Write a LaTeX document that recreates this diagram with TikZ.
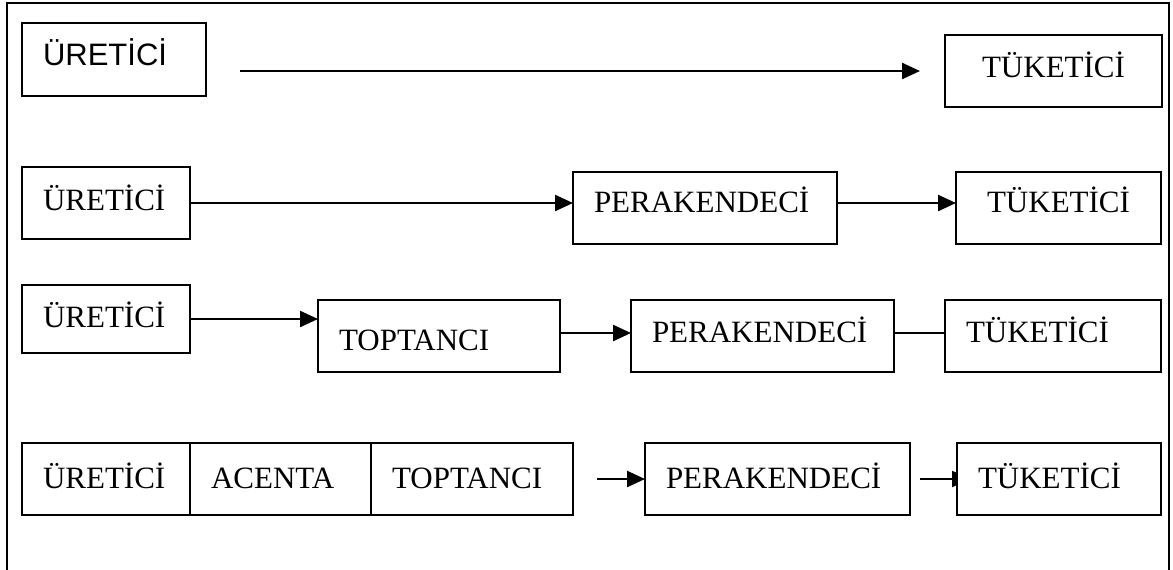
\documentclass[tikz,border=0pt]{standalone}
\usepackage{fontspec}
\setmainfont{Liberation Serif}
\setsansfont{Liberation Sans}
\usetikzlibrary{arrows.meta,positioning,backgrounds}

\begin{document}
\begin{tikzpicture}[
  x=0.5pt, y=-0.5pt,
  font=\fontsize{15.5pt}{18pt}\selectfont,
  box/.style={draw, line width=1pt, fill=white, anchor=north west, outer sep=0pt, inner xsep=10.5pt, inner ysep=0pt, align=left, text height=21pt, text depth=15pt},
  low/.style={text height=22.5pt, text depth=13.5pt},
  arr/.style={-{Triangle[length=9pt, width=8pt]}, line width=1.2pt},
  lnk/.style={line width=1.2pt}
]
\clip (0,0) rectangle (1173,569);
% outer frame, its bottom edge is off the page
\draw[line width=1.3pt] (7,600) -- (7,3) -- (1169,3) -- (1169,600);

% row 1
\node[box, font=\fontsize{15.5pt}{18pt}\selectfont\sffamily, text width=71pt, text depth=15.5pt] (u1) at (22,23) {ÜRETİCİ};
\node[box, align=center, text width=87.5pt] (t1) at (945,35) {TÜKETİCİ};

% row 2
\node[box, text width=63pt, text height=21.5pt, text depth=14.5pt] (u2) at (22,167) {ÜRETİCİ};
\node[box, text width=111pt, text height=20pt, text depth=16pt] (p2) at (573,172) {PERAKENDECİ};
\node[box, align=center, text width=81.5pt, text height=20pt, text depth=16pt] (t2) at (956,172) {TÜKETİCİ};

% row 3
\node[box, text width=63pt, text depth=13pt] (u3) at (22,285) {ÜRETİCİ};
\node[box, text width=100pt, text height=25pt, text depth=11pt] (o3) at (318,300) {TOPTANCI};
\node[box, text width=110.5pt] (p3) at (631,300) {PERAKENDECİ};
\node[box, text width=87pt] (t3) at (945,300) {TÜKETİCİ};

% row 4
\node[box, low, text width=63pt] (u4) at (22,443) {ÜRETİCİ};
\node[box, low, text width=69.5pt, right=0pt of u4] (a4) {ACENTA};
\node[box, low, text width=80pt, right=0pt of a4] (o4) {TOPTANCI};
\node[box, low, text width=111.5pt] (p4) at (645,443) {PERAKENDECİ};
\node[box, low, text width=81pt] (t4) at (957,443) {TÜKETİCİ};

\draw[arr, shorten <=17pt, shorten >=12.5pt] (u1.east |- t1.west) -- (t1.west);
\draw[arr] (u2.east) -- (u2.east -| p2.west);
\draw[arr] ([yshift=2.5pt]p2.east) -- ([yshift=2.5pt]p2.east -| t2.west);
\draw[arr] (u3.east) -- (u3.east -| o3.west);
\draw[arr] ([yshift=1.5pt]o3.east) -- ([yshift=1.5pt]o3.east -| p3.west);
\draw[lnk] ([yshift=1.5pt]p3.east) -- ([yshift=1.5pt]p3.east -| t3.west);
\draw[arr, shorten <=12pt] (o4.east) -- (p4.west);
\begin{scope}[on background layer]
\draw[arr, shorten <=5pt, shorten >=-6.5pt] (p4.east) -- (t4.west);
\end{scope}
\end{tikzpicture}
\end{document}
